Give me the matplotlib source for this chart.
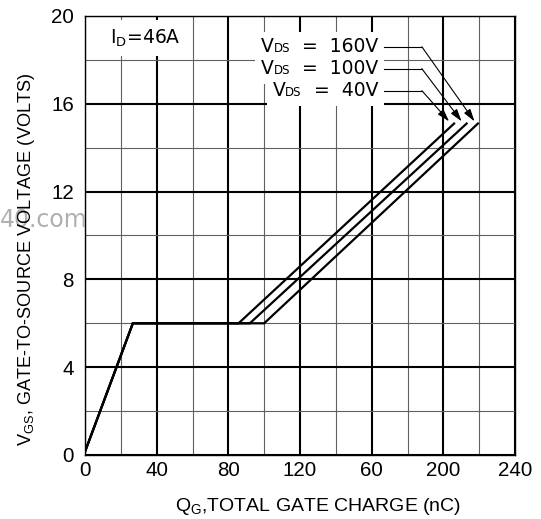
import matplotlib
matplotlib.use('Agg')
import matplotlib.pyplot as plt
from matplotlib.offsetbox import TextArea, HPacker, AnnotationBbox

plt.rcParams['font.family'] = ['Liberation Sans', 'DejaVu Sans']
plt.rcParams['mathtext.default'] = 'regular'

# gate charge curves
qg_40 = [0, 26.7, 85.7, 206.0]
vgs_40 = [0.15, 6.0, 6.0, 15.1]
qg_100 = [0, 26.7, 92.0, 213.0]
vgs_100 = [0.15, 6.0, 6.0, 15.1]
qg_160 = [0, 26.7, 100.0, 219.3]
vgs_160 = [0.15, 6.0, 6.0, 15.1]

x_ticks = [0, 40, 80, 120, 160, 200, 240]
x_ticklabels = ['0', '40', '80', '120', '60', '200', '240']
y_ticks = [0, 4, 8, 12, 16, 20]

vds_names = ['160V', '100V', '40V']
leader_y = [18.6, 17.6, 16.6]
arrow_tip_q = [217.4, 210.2, 203.2]
arrow_tip_v = 15.2

W, H = 541, 519
fig = plt.figure(figsize=(W / 100, H / 100), dpi=100)
ax = fig.add_axes([85 / W, 64 / H, 430 / W, 439 / H])

for q, v in [(qg_40, vgs_40), (qg_100, vgs_100), (qg_160, vgs_160)]:
    ax.plot(q, v, color='black', lw=1.6, zorder=3, solid_joinstyle='miter')

ax.set_xlim(0, 240)
ax.set_ylim(0, 20)
ax.set_xticks(x_ticks)
ax.set_xticklabels(x_ticklabels)
ax.set_yticks(y_ticks)
ax.set_xticks(range(20, 240, 40), minor=True)
ax.set_yticks(range(2, 20, 4), minor=True)
ax.grid(which='major', color='black', lw=1.5)
ax.grid(which='minor', color='#606060', lw=0.8)
ax.tick_params(which='both', length=0)
ax.tick_params(axis='x', pad=4.5, labelsize=14.8)
ax.tick_params(axis='y', pad=8, labelsize=14.8)
for s in ax.spines.values():
    s.set_linewidth(1.0)
    s.set_color('black')

# I_D label with white box over the grid
ax.text(14.2, 18.76, r'I$_D$=46A', family='DejaVu Sans', fontsize=13.5,
        va='baseline', ha='left', zorder=4,
        bbox=dict(boxstyle='square,pad=0.4', facecolor='white', edgecolor='none'))

# V_DS labels with leaders and arrows
for name, y, tq in zip(vds_names, leader_y, arrow_tip_q):
    parts = [TextArea('V', textprops=dict(fontsize=13.5, family='DejaVu Sans')),
             TextArea('DS', textprops=dict(fontsize=8.5, family='DejaVu Sans')),
             TextArea('  =  ' + name, textprops=dict(fontsize=13.5, family='DejaVu Sans'))]
    box = HPacker(children=parts, align='baseline', pad=0, sep=0)
    ab = AnnotationBbox(box, (163.7, y), xycoords='data', box_alignment=(1, 0.5),
                        frameon=True, pad=0.4,
                        bboxprops=dict(facecolor='white', edgecolor='none'))
    ab.set_zorder(4)
    ax.add_artist(ab)
    ax.plot([166.7, 188.0], [y, y], color='black', lw=0.8, zorder=5)
    ax.annotate('', xy=(tq, arrow_tip_v), xytext=(188.0, y),
                arrowprops=dict(arrowstyle='-|>,head_length=0.5,head_width=0.15',
                                color='black', lw=0.8, shrinkA=0, shrinkB=0,
                                mutation_scale=15),
                zorder=5)

# watermark, sits under the y label like in the scan
fig.text(0, (H - 220) / H, '40.com', color='#b0b0b0', fontsize=17,
         family='DejaVu Sans', ha='left', va='center', zorder=1)

fig.text(26.5 / W, (H - 259) / H, r'V$_{GS}$, GATE-TO-SOURCE VOLTAGE (VOLTS)',
         rotation=90, fontsize=13.1, ha='center', va='center', zorder=2)
fig.text(318 / W, 8 / H, r'Q$_G$,TOTAL GATE CHARGE (nC)',
         fontsize=14, ha='center', va='baseline', zorder=2)

fig.savefig('out.png', dpi=100)
